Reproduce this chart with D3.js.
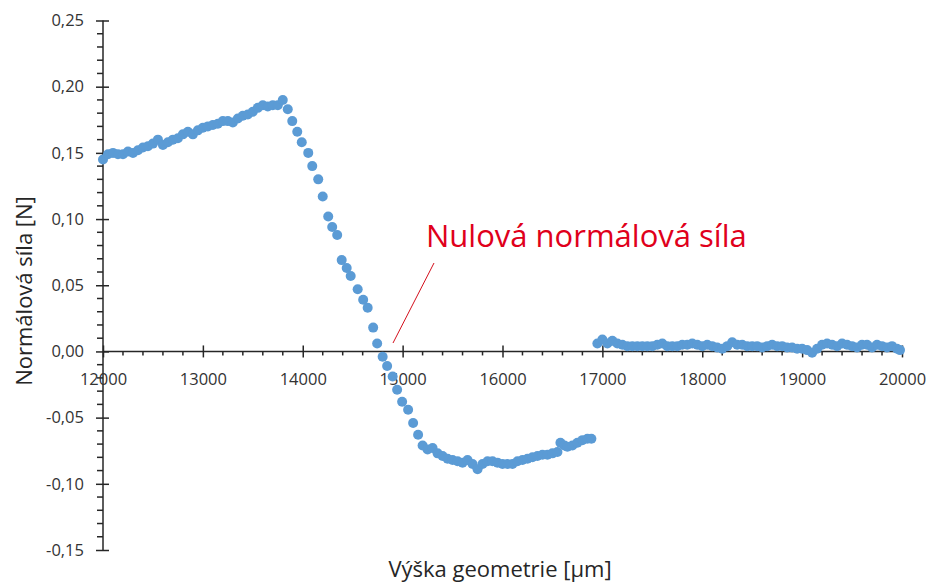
<!DOCTYPE html>
<html>
<head>
<meta charset="utf-8">
<script src="https://cdn.jsdelivr.net/npm/d3@7"></script>
<style>
  html, body { margin: 0; padding: 0; background: #fff; }
  svg { display: block; }
</style>
</head>
<body>
<svg id="chart" width="927" height="582"></svg>
<script>
// ---- data ----
const heightUm = [
  12000,12050,12100,12150,12200,12250,12300,12350,12400,12450,12500,12550,12600,12650,12700,12750,12800,12850,12900,12950,
  13000,13050,13100,13150,13200,13250,13300,13350,13400,13450,13500,13550,13600,13650,13700,13750,13800,
  13850,13895,13945,13990,14055,14095,14155,14200,14255,14295,14345,14390,14440,14480,14550,14605,14650,14705,14745,
  14800,14845,14900,14945,14995,15055,15105,15155,
  15200,15250,15300,15350,15400,15450,15500,15550,15600,15650,15700,15750,15800,15850,15900,15950,
  16000,16050,16100,16150,16200,16250,16300,16350,16400,16450,16500,16550,16580,16620,16650,16700,16750,16800,16850,16890,
  16950,17000,17050,17100,17150,17200,17250,17300,17350,17400,17450,17500,17550,17600,17650,17700,17750,17800,17850,17900,17950,
  18000,18050,18100,18150,18200,18250,18300,18350,18400,18450,18500,18550,18600,18650,18700,18750,18800,18850,18900,18950,
  19000,19050,19100,19150,19200,19250,19300,19350,19400,19450,19500,19550,19600,19650,19700,19750,19800,19850,19900,19950,19980
];
const forceN = [
  0.145,0.149,0.150,0.149,0.149,0.151,0.150,0.152,0.154,0.155,0.157,0.160,0.156,0.158,0.160,0.161,0.164,0.166,0.164,0.167,
  0.169,0.170,0.171,0.172,0.174,0.174,0.173,0.176,0.178,0.179,0.181,0.184,0.186,0.185,0.186,0.186,0.190,
  0.183,0.174,0.166,0.158,0.150,0.140,0.130,0.117,0.102,0.094,0.088,0.069,0.063,0.057,0.047,0.039,0.033,0.018,0.006,
  -0.004,-0.011,-0.019,-0.029,-0.038,-0.044,-0.054,-0.063,
  -0.071,-0.074,-0.073,-0.077,-0.079,-0.081,-0.082,-0.083,-0.084,-0.082,-0.085,-0.089,-0.085,-0.083,-0.083,-0.084,
  -0.085,-0.085,-0.085,-0.083,-0.082,-0.081,-0.080,-0.079,-0.078,-0.078,-0.077,-0.076,-0.069,-0.071,-0.072,-0.071,-0.069,-0.067,-0.066,-0.066,
  0.006,0.009,0.006,0.008,0.006,0.005,0.004,0.004,0.004,0.004,0.004,0.004,0.005,0.006,0.004,0.004,0.004,0.005,0.005,0.006,0.005,
  0.004,0.005,0.004,0.003,0.002,0.004,0.007,0.005,0.005,0.004,0.004,0.004,0.003,0.004,0.005,0.004,0.004,0.003,0.003,0.002,
  0.002,0.001,-0.001,0.002,0.005,0.006,0.005,0.004,0.006,0.005,0.004,0.003,0.005,0.005,0.003,0.005,0.004,0.003,0.004,0.002,0.001
];
const xTicks = [12000,13000,14000,15000,16000,17000,18000,19000,20000];
const yTicks = [-0.15,-0.10,-0.05,0.00,0.05,0.10,0.15,0.20,0.25];
const xTitle = "Výška geometrie [µm]";
const yTitle = "Normálová síla [N]";
const noteText = "Nulová normálová síla";

// ---- layout ----
const svg = d3.select("#chart");
const x = d3.scaleLinear().domain([12000, 20000]).range([103, 902]);
const y = d3.scaleLinear().domain([-0.15, 0.25]).range([550, 20.5]);
const locale = d3.formatLocale({decimal: ",", thousands: "", grouping: [3], currency: ["", ""], minus: "-"});
const fmtY = locale.format(".2f");
const fmtX = locale.format("d");
const axisColor = "#262626";
const labelColor = "#333";
const font = "'Open Sans', sans-serif";

// minor ticks
const yMinor = d3.range(-0.15, 0.2501, 0.01).map(v => Math.round(v * 100) / 100)
  .filter(v => !yTicks.some(t => Math.abs(t - v) < 1e-9));
const xMinor = d3.range(12000, 20001, 200).filter(v => v % 1000 !== 0);

// Y axis
const yAxisG = svg.append("g").attr("transform", `translate(${x(12000)},0)`)
  .call(d3.axisLeft(y).tickValues(yTicks).tickFormat(fmtY).tickSize(7).tickPadding(12));
yAxisG.select(".domain").attr("stroke", axisColor).attr("stroke-width", 1.5).attr("d", `M0,${y(0.25)}V${y(-0.15)}`);
yAxisG.selectAll(".tick line").attr("stroke", axisColor).attr("stroke-width", 1.5).attr("x1", 6).attr("x2", -7);
yAxisG.selectAll(".tick text").attr("fill", labelColor).style("font-family", font).style("font-size", "16.5px");
yAxisG.selectAll(".minor").data(yMinor).enter().append("line")
  .attr("x1", -6).attr("x2", 0).attr("y1", d => y(d)).attr("y2", d => y(d))
  .attr("stroke", axisColor).attr("stroke-width", 1.5);

// X axis (at y = 0)
const xAxisG = svg.append("g").attr("transform", `translate(0,${y(0)})`)
  .call(d3.axisBottom(x).tickValues(xTicks).tickFormat(fmtX).tickSize(6).tickPadding(16));
xAxisG.select(".domain").attr("stroke", axisColor).attr("stroke-width", 1.5).attr("d", `M${x(12000)},0H${x(20000)}`);
xAxisG.selectAll(".tick line").attr("stroke", axisColor).attr("stroke-width", 1.5).attr("y1", -6).attr("y2", 6);
xAxisG.selectAll(".tick text").attr("fill", labelColor).style("font-family", font).style("font-size", "16.5px");
xAxisG.selectAll(".minor").data(xMinor).enter().append("line")
  .attr("y1", 0).attr("y2", 4).attr("x1", d => x(d)).attr("x2", d => x(d))
  .attr("stroke", axisColor).attr("stroke-width", 1.5);

// titles
svg.append("text").attr("x", 500).attr("y", 577).attr("text-anchor", "middle")
  .attr("fill", "#262626").style("font-family", font).style("font-size", "22px").text(xTitle);
svg.append("text").attr("transform", "translate(32,291) rotate(-90)").attr("text-anchor", "middle")
  .attr("fill", "#262626").style("font-family", font).style("font-size", "22px").text(yTitle);

// annotation
svg.append("line").attr("x1", 393).attr("y1", 343).attr("x2", 434).attr("y2", 263)
  .attr("stroke", "#d40f1c").attr("stroke-width", 1);
svg.append("text").attr("x", 426).attr("y", 247).attr("fill", "#e0001b")
  .style("font-family", font).style("font-size", "31px").text(noteText);

// points
const pts = heightUm.map((h, i) => ({h, f: forceN[i]}));
svg.append("g").selectAll("circle").data(pts).enter().append("circle")
  .attr("cx", d => x(d.h)).attr("cy", d => y(d.f)).attr("r", 5)
  .attr("fill", "#5b9bd5");
</script>
</body>
</html>
